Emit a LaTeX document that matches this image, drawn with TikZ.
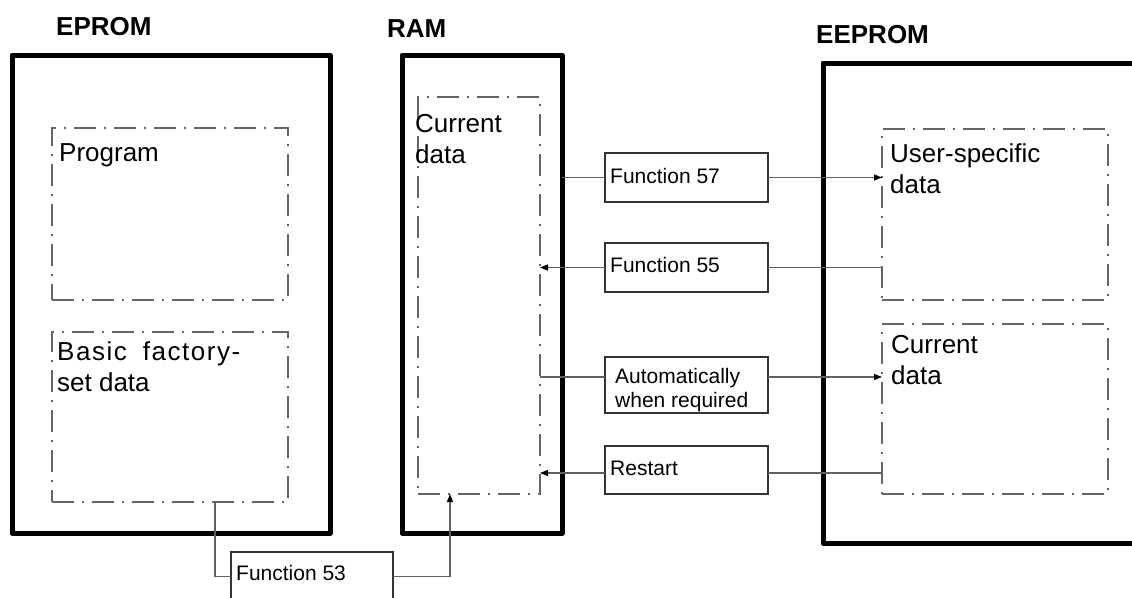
\documentclass[tikz,border=0pt]{standalone}
\usepackage{fontspec}
\setmainfont{Liberation Sans}
\usetikzlibrary{arrows.meta,calc}

\newcommand\bodysize{\fontsize{26}{31}\selectfont}
\newcommand\fnsize{\fontsize{21}{24}\selectfont}

\begin{document}
\begin{tikzpicture}[x=1pt,y=-1pt,
  memory/.style={draw=black, line width=5pt, line join=round, rectangle, inner sep=0pt, outer sep=0pt},
  area/.style={draw=black!60, line width=1.3pt, dash pattern=on 22pt off 8pt on 2pt off 8pt, rectangle, inner sep=0pt, outer sep=0pt},
  fbox/.style={draw=black!80, line width=1.2pt, rectangle, inner sep=0pt, outer sep=0pt, minimum width=163pt},
  title/.style={anchor=base west, inner sep=0pt, font=\bodysize\bfseries},
  body/.style={anchor=base west, inner sep=0pt, font=\bodysize},
  ftext/.style={anchor=base west, inner sep=0pt, font=\fnsize},
  link/.style={draw=black!62, line width=1.2pt},
  arrow/.style={link, -{Triangle[length=8pt,width=6pt,color=black]}}
]
\useasboundingbox (0,0) rectangle (1132,597);
\clip (0,0) rectangle (1132,597);

% memory blocks
\node[memory, minimum width=318pt, minimum height=478pt] (eprom) at (171,294) {};
\node[memory, minimum width=160pt, minimum height=478pt] (ram) at (482,294) {};
\node[memory, minimum width=347pt, minimum height=480pt] (eeprom) at (996.5,303) {};

\node[title] (tEPROM) at (56,35) {EPROM};
\node[title] (tRAM) at (387,37) {RAM};
\node[title] (tEEPROM) at (816,43) {EEPROM};

% data areas
\node[area, minimum width=236pt, minimum height=172pt] (prog) at (170,214) {};
\node[area, minimum width=236pt, minimum height=170pt] (bfd) at (170,417) {};
\node[area, minimum width=122pt, minimum height=397pt] (ramcd) at (479,295.5) {};
\node[area, minimum width=226pt, minimum height=171pt] (usd) at (995,214.5) {};
\node[area, minimum width=226pt, minimum height=170pt] (eecd) at (995,409) {};

\node[body] (lprog) at (59,161) {Program};
\node[body] (lbfd) at (57,360) {\parbox[t]{230pt}{\raggedright{\addfontfeature{LetterSpace=6}Basic\hspace{7pt} factory-}\\set data}};
\node[body] (lramcd) at (415,132) {\parbox[t]{120pt}{\raggedright Current\\data}};
\node[body] (lusd) at (890,162) {\parbox[t]{220pt}{\raggedright User-specific\\data}};
\node[body] (leecd) at (891,353) {\parbox[t]{220pt}{\raggedright Current\\data}};

% function boxes
\node[fbox, minimum height=49pt] (f57) at (686.5,177.5) {};
\node[fbox, minimum height=49pt] (f55) at (686.5,267.5) {};
\node[fbox, minimum height=56pt] (auto) at (686.5,385) {};
\node[fbox, minimum height=48pt] (rst) at (686.5,470) {};
\node[fbox, minimum width=162pt, minimum height=49pt] (f53) at (312,576.5) {};

\node[ftext] (tf57) at ($(f57.north west)+(5,30)$) {Function 57};
\node[ftext] (tf55) at ($(f55.north west)+(5,29)$) {Function 55};
\node[ftext] (tauto) at ($(auto.north west)+(10,26)$) {\parbox[t]{150pt}{\raggedright Automatically\\when required}};
\node[ftext] (trst) at ($(rst.north west)+(5,29)$) {Restart};
\node[ftext] (tf53) at ($(f53.north west)+(5,28)$) {Function 53};

% transfers
\draw[link] (ram.east |- f57.west) -- (f57.west);
\draw[arrow] (f57.east) -- (f57.east -| usd.west);

\draw[link] (usd.west |- f55.east) -- (f55.east);
\draw[arrow] (f55.west) -- (f55.west -| ramcd.east);

\coordinate (autoL) at ($(auto.west)+(0,-8)$);
\coordinate (autoR) at ($(auto.east)+(0,-8)$);
\draw[link] (ramcd.east |- autoL) -- (autoL);
\draw[arrow] (autoR) -- (autoR -| eecd.west);

\coordinate (rstL) at ($(rst.west)+(0,3)$);
\coordinate (rstR) at ($(rst.east)+(0,3)$);
\draw[link] (eecd.west |- rstR) -- (rstR);
\draw[arrow] (rstL) -- (rstL -| ramcd.east);

\coordinate (src53) at ($(bfd.south west)+(163,0)$);
\coordinate (dst53) at ($(ramcd.south west)+(32,0)$);
\draw[link] (src53) |- (f53.west);
\draw[arrow] (f53.east) -| (dst53);
\end{tikzpicture}
\end{document}
